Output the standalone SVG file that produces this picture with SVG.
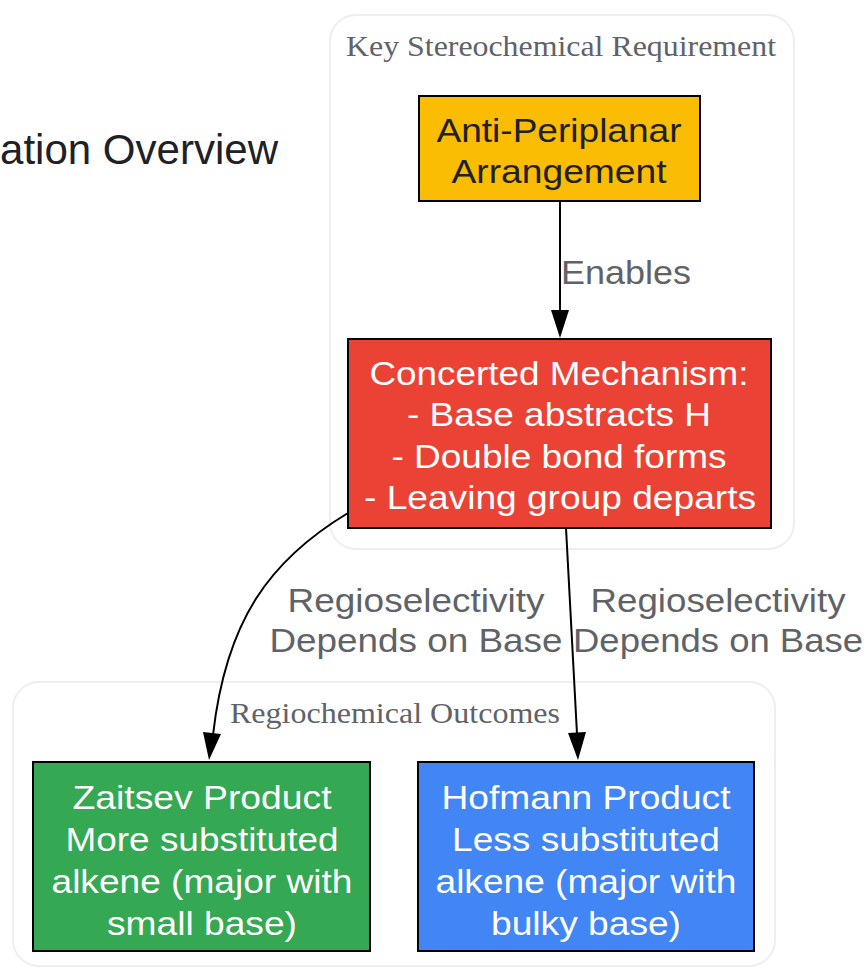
<svg xmlns="http://www.w3.org/2000/svg" width="868" height="968" viewBox="0 0 868 968">
<defs>
<style>
.cl{fill:#fff;stroke:#eeeeee;stroke-width:2}
.ct{font-family:"Liberation Serif",serif;font-size:30px;fill:#5f6368;text-anchor:middle}
.nd{stroke:#000;stroke-width:2}
.t{font-family:"Liberation Sans",Arial,sans-serif;font-size:34px;text-anchor:middle}
.w{fill:#fff}
.k{fill:#202124}
.lb{font-family:"Liberation Sans",Arial,sans-serif;font-size:34px;fill:#5f6368;text-anchor:middle}
.e{fill:none;stroke:#000;stroke-width:2}
</style>
</defs>
<rect width="868" height="968" fill="#fff"/>
<text x="0" y="164" font-family="Liberation Sans,Arial,sans-serif" font-size="42" fill="#202124" textLength="278" lengthAdjust="spacingAndGlyphs">ation Overview</text>
<g id="cluster_stereo">
<rect class="cl" x="330" y="15" width="464" height="534" rx="26"/>
<text class="ct" x="561" y="56" textLength="430" lengthAdjust="spacingAndGlyphs">Key Stereochemical Requirement</text>
</g>
<g id="cluster_regio">
<rect class="cl" x="13" y="682" width="762" height="284" rx="26"/>
<text class="ct" x="395" y="723" textLength="330" lengthAdjust="spacingAndGlyphs">Regiochemical Outcomes</text>
</g>
<g id="edges">
<path class="e" d="M560,201 L560,312"/>
<path d="M551,310 L560,338 L569,310 z" fill="#000"/>
<path class="e" d="M348,513 C270,560 226,620 213,735"/>
<path d="M203,732 L209,760 L221,734 z" fill="#000"/>
<path class="e" d="M566,528 L577,734"/>
<path d="M568,733 L578,760 L586,732 z" fill="#000"/>
<text class="lb" x="626" y="284" textLength="130" lengthAdjust="spacingAndGlyphs">Enables</text>
<text class="lb" x="416" y="612" textLength="257" lengthAdjust="spacingAndGlyphs">Regioselectivity</text>
<text class="lb" x="416" y="652" textLength="293" lengthAdjust="spacingAndGlyphs">Depends on Base</text>
<text class="lb" x="718" y="612" textLength="255" lengthAdjust="spacingAndGlyphs">Regioselectivity</text>
<text class="lb" x="718" y="652" textLength="290" lengthAdjust="spacingAndGlyphs">Depends on Base</text>
</g>
<g id="anti">
<rect class="nd" x="419" y="96" width="281" height="105" fill="#fbbc04"/>
<text class="t k" x="559" y="142" textLength="245" lengthAdjust="spacingAndGlyphs">Anti-Periplanar</text>
<text class="t k" x="559" y="183" textLength="215" lengthAdjust="spacingAndGlyphs">Arrangement</text>
</g>
<g id="concerted">
<rect class="nd" x="348" y="339" width="423" height="189" fill="#ea4335"/>
<text class="t w" x="559" y="385" textLength="379" lengthAdjust="spacingAndGlyphs">Concerted Mechanism:</text>
<text class="t w" x="559" y="426" textLength="304" lengthAdjust="spacingAndGlyphs">- Base abstracts H</text>
<text class="t w" x="559" y="468" textLength="335" lengthAdjust="spacingAndGlyphs">- Double bond forms</text>
<text class="t w" x="560" y="509" textLength="392" lengthAdjust="spacingAndGlyphs">- Leaving group departs</text>
</g>
<g id="zaitsev">
<rect class="nd" x="33" y="762" width="337" height="189" fill="#34a853"/>
<text class="t w" x="202" y="809" textLength="259" lengthAdjust="spacingAndGlyphs">Zaitsev Product</text>
<text class="t w" x="202" y="851" textLength="273" lengthAdjust="spacingAndGlyphs">More substituted</text>
<text class="t w" x="202" y="893" textLength="301" lengthAdjust="spacingAndGlyphs">alkene (major with</text>
<text class="t w" x="202" y="935" textLength="190" lengthAdjust="spacingAndGlyphs">small base)</text>
</g>
<g id="hofmann">
<rect class="nd" x="418" y="762" width="336" height="189" fill="#4285f4"/>
<text class="t w" x="586" y="809" textLength="289" lengthAdjust="spacingAndGlyphs">Hofmann Product</text>
<text class="t w" x="586" y="851" textLength="268" lengthAdjust="spacingAndGlyphs">Less substituted</text>
<text class="t w" x="586" y="893" textLength="301" lengthAdjust="spacingAndGlyphs">alkene (major with</text>
<text class="t w" x="586" y="935" textLength="190" lengthAdjust="spacingAndGlyphs">bulky base)</text>
</g>
</svg>
